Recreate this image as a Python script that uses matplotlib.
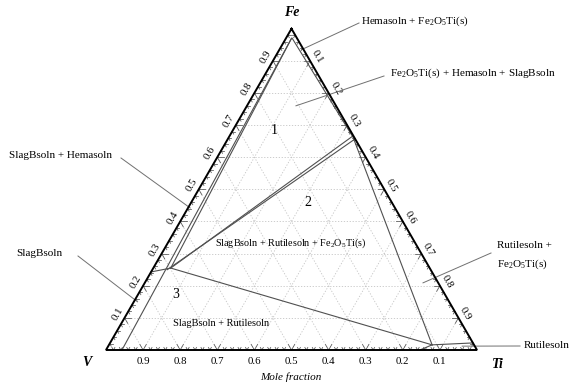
import numpy as np
import matplotlib
matplotlib.use("Agg")
import matplotlib.pyplot as plt

plt.rcParams["font.family"] = ["Liberation Serif", "DejaVu Serif"]
plt.rcParams["mathtext.fontset"] = "custom"
plt.rcParams["mathtext.rm"] = "Liberation Serif"
plt.rcParams["mathtext.it"] = "Liberation Serif:italic"

# Components at the corners
corner_names = ["Fe", "V", "Ti"]
tick_values = [0.1, 0.2, 0.3, 0.4, 0.5, 0.6, 0.7, 0.8, 0.9]
tick_labels = ["0.1", "0.2", "0.3", "0.4", "0.5", "0.6", "0.7", "0.8", "0.9"]

# Phase boundaries, compositions as (Fe, Ti) mole fractions
left_band_fe = [0.97, 0.0]
left_band_ti = [0.015, 0.043]
upper_left_fe = [0.255, 0.97]
upper_left_ti = [0.047, 0.015]
tie_short_fe = [0.255, 0.243]
tie_short_ti = [0.047, 0.0]
tie_double_a_fe = [0.255, 0.667]
tie_double_a_ti = [0.047, 0.333]
tie_double_b_fe = [0.250, 0.657]
tie_double_b_ti = [0.040, 0.343]
tie_lower_fe = [0.255, 0.016]
tie_lower_ti = [0.047, 0.871]
right_band_fe = [0.97, 0.662, 0.016]
right_band_ti = [0.017, 0.335, 0.871]
bottom_fe = [0.016, 0.0]
bottom_ti = [0.871, 0.846]
rutile_fe = [0.016, 0.022]
rutile_ti = [0.871, 0.978]

# Pointer tips of the phase-field labels, as (Fe, Ti)
ptr_hema_fe2o5 = (0.935, 0.060)
ptr_three = (0.760, 0.132)
ptr_slag_hema = (0.442, 0.006)
ptr_slag = (0.150, 0.010)
ptr_rut_fe2o5 = (0.209, 0.750)
ptr_rutile = (0.012, 0.954)

FE2O5TI = r"Fe$_2$O$_5$Ti(s)"

S3 = np.sqrt(3) / 2


def tern(fe, ti):
    fe = np.asarray(fe, float)
    ti = np.asarray(ti, float)
    return ti + fe / 2, fe * S3


def px(xp, yp):
    # figure pixel position -> data coordinates
    return (xp - 106) / 371, (350 - yp) / 371


fig = plt.figure(figsize=(5.71, 3.85), dpi=100)
ax = fig.add_axes([0, 0, 1, 1])
ax.set_xlim(-106 / 371, (571 - 106) / 371)
ax.set_ylim((350 - 385) / 371, 350 / 371)
ax.axis("off")

# dotted composition grid
gkw = dict(color="#c4c4c4", lw=0.6, ls=(0, (1.5, 2.0)), zorder=1)
for v in tick_values:
    x, y = tern([v, v], [0, 1 - v])
    ax.plot(x, y, **gkw)
    x, y = tern([0, 1 - v], [v, v])
    ax.plot(x, y, **gkw)
    x, y = tern([0, 1 - v], [1 - v, 0])
    ax.plot(x, y, **gkw)

# ticks along the three edges
def ang(d):
    r = np.deg2rad(d)
    return np.cos(r), np.sin(r)

minor = np.round(np.arange(0.02, 1.0, 0.02), 2)
for m in minor:
    major = abs(m * 10 - round(m * 10)) < 1e-6
    L = 0.017 if major else 0.008
    edges = [
        (tern(0, 1 - m), (60, 120)),      # base, V fraction
        (tern(m, 0), (0, -60)),           # left edge, Fe fraction
        (tern(1 - m, m), (180, 240)),     # right edge, Ti fraction
    ]
    for (x0, y0), dirs in edges:
        for d in dirs:
            c, s = ang(d)
            ax.plot([x0, x0 + L * c], [y0, y0 + L * s], color="#555555",
                    lw=0.55, zorder=2)

# triangle frame
fx, fy = tern([1, 0, 0, 1], [0, 0, 1, 0])
ax.plot(fx, fy, color="black", lw=1.4, zorder=4, solid_joinstyle="miter")

# phase boundaries
bkw = dict(color="#505050", lw=0.8, zorder=3)
for fe, ti in [(left_band_fe, left_band_ti), (upper_left_fe, upper_left_ti),
               (tie_short_fe, tie_short_ti), (tie_double_a_fe, tie_double_a_ti),
               (tie_double_b_fe, tie_double_b_ti), (tie_lower_fe, tie_lower_ti),
               (right_band_fe, right_band_ti), (bottom_fe, bottom_ti),
               (rutile_fe, rutile_ti)]:
    x, y = tern(fe, ti)
    ax.plot(x, y, **bkw)

# tick labels
fs_t = 7.8
off = 0.022
for v, lab in zip(tick_values, tick_labels):
    x, y = tern(0, 1 - v)
    ax.text(x, y - 0.032, lab, ha="center", va="center", fontsize=fs_t)
    x, y = tern(v, 0)
    ax.text(x - off * 0.866, y + off * 0.5, lab, ha="center", va="center",
            fontsize=fs_t, rotation=60, rotation_mode="anchor")
    x, y = tern(1 - v, v)
    ax.text(x + off * 0.866, y + off * 0.5, lab, ha="center", va="center",
            fontsize=fs_t, rotation=-60, rotation_mode="anchor")

# corner names
ckw = dict(fontsize=10, fontweight="bold", fontstyle="italic", ha="center", va="center")
ax.text(*px(292, 12), corner_names[0], **ckw)
ax.text(*px(87, 363), corner_names[1], **ckw)
ax.text(*px(498, 364), corner_names[2], **ckw)
ax.text(*px(291, 377), "Mole fraction", fontsize=8, fontstyle="italic",
        ha="center", va="center")

# field numbers and in-field labels
fkw = dict(fontsize=10, ha="center", va="center")
ax.text(*px(274, 130), "1", **fkw)
ax.text(*px(308, 202), "2", **fkw)
ax.text(*px(176, 295), "3", **fkw)
ax.text(*px(291, 243), "SlagBsoln + Rutilesoln + " + FE2O5TI, fontsize=7.3,
        ha="center", va="center")
ax.text(*px(221, 323), "SlagBsoln + Rutilesoln", fontsize=7.5,
        ha="center", va="center")

# outside labels with pointers
lkw = dict(fontsize=8, ha="left", va="center")
pkw = dict(color="#707070", lw=0.7, zorder=3)


def pointer(start_px, tip):
    sx, sy = px(*start_px)
    tx, ty = tern(*tip)
    ax.plot([sx, tx], [sy, ty], **pkw)


ax.text(*px(361, 21), "Hemasoln + " + FE2O5TI, **lkw)
pointer((359, 23), ptr_hema_fe2o5)
ax.text(*px(390, 73), FE2O5TI + " + Hemasoln + SlagBsoln", **lkw)
pointer((384, 76), ptr_three)
ax.text(*px(9, 156), "SlagBsoln + Hemasoln", **lkw)
pointer((121, 158), ptr_slag_hema)
ax.text(*px(16, 254), "SlagBsoln", **lkw)
pointer((78, 256), ptr_slag)
ax.text(*px(497, 245), "Rutilesoln +", **lkw)
ax.text(*px(497, 264), FE2O5TI, **lkw)
pointer((491, 253), ptr_rut_fe2o5)
ax.text(*px(524, 346), "Rutilesoln", **lkw)
pointer((520, 346), ptr_rutile)

fig.savefig("out.png", dpi=100)
